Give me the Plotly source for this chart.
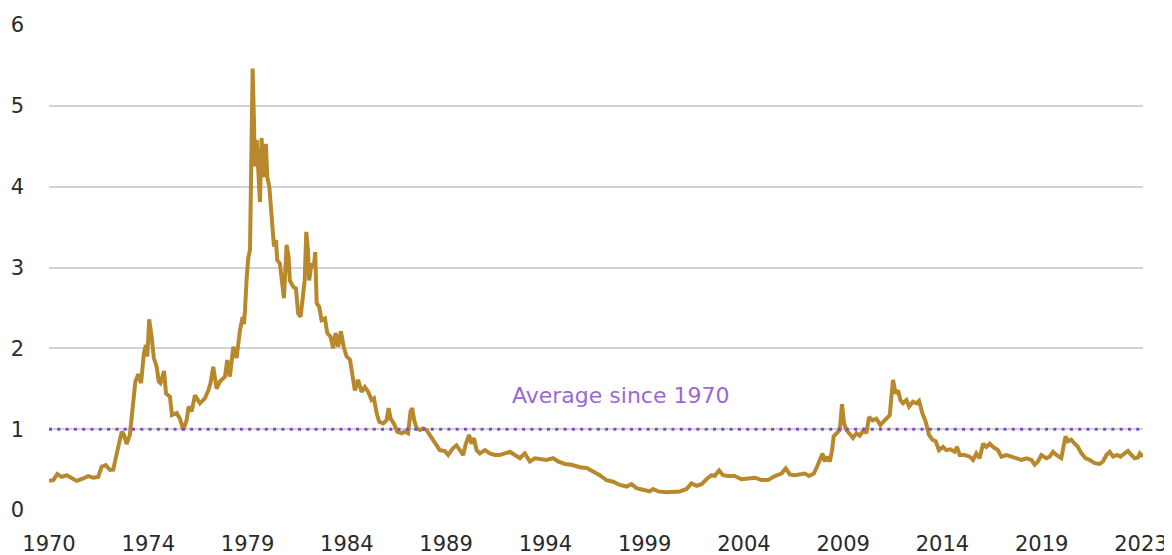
import numpy as np
import plotly.graph_objects as go

# Decimal-year positions of the traced points
years = [
    1970.00, 1970.21, 1970.41, 1970.62, 1970.87, 1971.12, 1971.36, 1971.69, 1971.93, 1972.18,
    1972.42, 1972.59, 1972.79, 1973.00, 1973.16, 1973.30, 1973.46, 1973.58, 1973.69, 1973.82,
    1973.98, 1974.08, 1974.15, 1974.25, 1974.39, 1974.53, 1974.67, 1974.77, 1974.84, 1974.93,
    1975.05, 1975.16, 1975.30, 1975.40, 1975.49, 1975.66, 1975.76, 1975.95, 1976.05, 1976.28,
    1976.44, 1976.61, 1976.77, 1976.87, 1977.02, 1977.18, 1977.43, 1977.67, 1977.84, 1977.95,
    1978.08, 1978.25, 1978.41, 1978.66, 1978.77, 1978.90, 1979.07, 1979.23, 1979.40, 1979.53,
    1979.59, 1979.64, 1979.72, 1979.80, 1979.89, 1979.95, 1980.02, 1980.08, 1980.13, 1980.22,
    1980.30, 1980.38, 1980.46, 1980.54, 1980.67, 1980.74, 1980.84, 1980.91, 1981.00, 1981.07,
    1981.17, 1981.23, 1981.36, 1981.45, 1981.56, 1981.69, 1981.79, 1981.85, 1982.02, 1982.15,
    1982.26, 1982.38, 1982.48, 1982.58, 1982.66, 1982.74, 1982.80, 1982.92, 1983.03, 1983.10,
    1983.17, 1983.30, 1983.41, 1983.58, 1983.69, 1983.86, 1983.98, 1984.10, 1984.23, 1984.36,
    1984.51, 1984.64, 1984.81, 1984.94, 1985.05, 1985.21, 1985.38, 1985.54, 1985.71, 1985.87,
    1985.99, 1986.12, 1986.25, 1986.44, 1986.61, 1986.71, 1986.81, 1986.97, 1987.13, 1987.35,
    1987.51, 1987.67, 1987.79, 1987.87, 1987.97, 1988.09, 1988.25, 1988.41, 1988.58, 1988.78,
    1988.99, 1989.15, 1989.23, 1989.48, 1989.64, 1989.86, 1990.05, 1990.22, 1990.38, 1990.51,
    1990.67, 1990.79, 1990.91, 1991.04, 1991.20, 1991.45, 1991.69, 1991.94, 1992.18, 1992.43,
    1992.68, 1992.92, 1993.17, 1993.41, 1993.66, 1993.91, 1994.15, 1994.48, 1994.81, 1995.05,
    1995.38, 1995.71, 1996.12, 1996.45, 1996.77, 1997.10, 1997.43, 1997.76, 1998.09, 1998.42,
    1998.66, 1998.91, 1999.23, 1999.56, 1999.72, 1999.97, 2000.38, 2000.71, 2001.04, 2001.37,
    2001.61, 2001.86, 2002.11, 2002.35, 2002.60, 2002.76, 2002.97, 2003.17, 2003.41, 2003.74,
    2004.07, 2004.40, 2004.73, 2005.06, 2005.38, 2005.71, 2006.04, 2006.25, 2006.45, 2006.69,
    2006.94, 2007.19, 2007.40, 2007.63, 2007.79, 2007.92, 2008.06, 2008.17, 2008.28, 2008.42,
    2008.53, 2008.61, 2008.75, 2008.91, 2009.02, 2009.12, 2009.24, 2009.40, 2009.56, 2009.73,
    2009.89, 2010.09, 2010.22, 2010.35, 2010.52, 2010.71, 2010.91, 2011.12, 2011.37, 2011.45,
    2011.53, 2011.66, 2011.78, 2011.89, 2012.02, 2012.19, 2012.32, 2012.51, 2012.68, 2012.81,
    2012.97, 2013.14, 2013.30, 2013.47, 2013.63, 2013.79, 2013.99, 2014.16, 2014.35, 2014.56,
    2014.68, 2014.81, 2015.06, 2015.30, 2015.47, 2015.63, 2015.79, 2015.96, 2016.12, 2016.29,
    2016.45, 2016.69, 2016.86, 2017.11, 2017.35, 2017.60, 2017.85, 2018.09, 2018.34, 2018.50,
    2018.66, 2018.83, 2019.07, 2019.24, 2019.40, 2019.57, 2019.81, 2019.93, 2020.02, 2020.14,
    2020.30, 2020.47, 2020.63, 2020.80, 2021.01, 2021.20, 2021.45, 2021.70, 2021.86, 2022.03,
    2022.19, 2022.36, 2022.55, 2022.72, 2022.93, 2023.09, 2023.26, 2023.42, 2023.58, 2023.67,
    2023.83,
]

ratio = [
    0.36, 0.37, 0.445, 0.41, 0.43, 0.39, 0.36, 0.39, 0.42, 0.40,
    0.41, 0.535, 0.556, 0.495, 0.50, 0.66, 0.825, 0.97, 0.93, 0.816,
    0.93, 1.20, 1.36, 1.59, 1.68, 1.57, 1.94, 2.04, 1.90, 2.36,
    2.14, 1.88, 1.77, 1.59, 1.57, 1.72, 1.44, 1.40, 1.175, 1.20,
    1.13, 0.99, 1.11, 1.28, 1.22, 1.42, 1.32, 1.38, 1.48, 1.57,
    1.77, 1.50, 1.59, 1.65, 1.855, 1.65, 2.02, 1.88, 2.23, 2.39,
    2.30, 2.45, 2.84, 3.11, 3.22, 4.04, 5.46, 4.86, 4.25, 4.58,
    4.12, 3.81, 4.60, 4.12, 4.53, 4.12, 4.00, 3.79, 3.57, 3.26,
    3.34, 3.09, 3.05, 2.80, 2.62, 3.28, 3.13, 2.84, 2.76, 2.74,
    2.43, 2.39, 2.64, 2.84, 3.44, 3.22, 2.84, 3.05, 3.00, 3.19,
    2.56, 2.51, 2.35, 2.37, 2.19, 2.14, 2.00, 2.19, 2.02, 2.21,
    2.01, 1.90, 1.86, 1.65, 1.48, 1.61, 1.46, 1.52, 1.46, 1.36,
    1.38, 1.20, 1.09, 1.07, 1.11, 1.26, 1.13, 1.07, 0.97, 0.95,
    0.97, 0.95, 1.22, 1.26, 1.11, 1.01, 0.99, 1.01, 0.99, 0.91,
    0.82, 0.76, 0.74, 0.73, 0.68, 0.76, 0.80, 0.74, 0.68, 0.82,
    0.93, 0.82, 0.89, 0.74, 0.70, 0.74, 0.70, 0.68, 0.68, 0.70,
    0.72, 0.68, 0.64, 0.70, 0.60, 0.64, 0.63, 0.62, 0.64, 0.60,
    0.57, 0.56, 0.53, 0.52, 0.475, 0.43, 0.37, 0.35, 0.31, 0.29,
    0.32, 0.27, 0.25, 0.23, 0.26, 0.23, 0.22, 0.22, 0.23, 0.26,
    0.33, 0.30, 0.32, 0.38, 0.43, 0.42, 0.49, 0.43, 0.42, 0.42,
    0.38, 0.39, 0.40, 0.37, 0.37, 0.42, 0.45, 0.515, 0.44, 0.43,
    0.44, 0.45, 0.42, 0.45, 0.535, 0.62, 0.70, 0.60, 0.66, 0.60,
    0.74, 0.91, 0.95, 0.99, 1.31, 1.07, 0.99, 0.93, 0.89, 0.95,
    0.92, 0.99, 0.95, 1.15, 1.11, 1.13, 1.05, 1.11, 1.175, 1.40,
    1.61, 1.44, 1.48, 1.36, 1.32, 1.36, 1.28, 1.34, 1.32, 1.35,
    1.20, 1.09, 0.93, 0.87, 0.85, 0.74, 0.78, 0.74, 0.75, 0.72,
    0.78, 0.68, 0.68, 0.66, 0.62, 0.70, 0.64, 0.82, 0.78, 0.82,
    0.78, 0.74, 0.66, 0.68, 0.66, 0.64, 0.62, 0.64, 0.62, 0.56,
    0.60, 0.68, 0.64, 0.66, 0.72, 0.68, 0.64, 0.80, 0.91, 0.85,
    0.87, 0.82, 0.78, 0.70, 0.64, 0.62, 0.58, 0.57, 0.60, 0.68,
    0.72, 0.66, 0.68, 0.66, 0.70, 0.73, 0.68, 0.64, 0.65, 0.70,
    0.66,
]

average_since_1970 = 1.0
average_label = "Average since 1970"

x_tick_labels = ["1970", "1974", "1979", "1984", "1989", "1994",
                 "1999", "2004", "2009", "2014", "2019", "2023"]
y_tick_values = [0, 1, 2, 3, 4, 5, 6]

GOLD = "#B8892C"
PURPLE_DOTS = "#7D4CC6"
PURPLE_TEXT = "#9A68D6"
GRID = "#D2D2D2"
FONT = "DejaVu Sans"
TEXT = "#2A2A2A"

x_start, x_end = years[0], years[-1]
tick_positions = np.linspace(x_start, 2023.73, len(x_tick_labels))

fig = go.Figure()

fig.add_trace(go.Scatter(
    x=years, y=ratio, mode="lines",
    line=dict(color=GOLD, width=4),
    hoverinfo="skip", showlegend=False,
))

fig.add_trace(go.Scatter(
    x=[x_start, x_end], y=[average_since_1970, average_since_1970], mode="lines",
    line=dict(color=PURPLE_DOTS, width=3, dash="3px,5.3px"),
    hoverinfo="skip", showlegend=False,
))

fig.add_annotation(
    x=1998.1, y=1.42, text=average_label, showarrow=False,
    font=dict(family=FONT, size=22, color=PURPLE_TEXT),
    xanchor="center", yanchor="middle",
)

# the page body adds an 8px offset, so the figure is 8px smaller and margins shifted
fig.update_layout(
    width=1164, height=547,
    margin=dict(l=41, r=29, t=17, b=45),
    plot_bgcolor="white", paper_bgcolor="white",
    font=dict(family=FONT, size=21, color=TEXT),
    showlegend=False,
)

fig.update_xaxes(
    range=[x_start, x_end],
    tickmode="array", tickvals=tick_positions, ticktext=x_tick_labels,
    showgrid=False, zeroline=False, showline=False,
    ticks="", ticklabelstandoff=19, automargin=False,
    tickfont=dict(family=FONT, size=21, color=TEXT),
)

fig.update_yaxes(
    range=[0, 6],
    tickmode="array", tickvals=y_tick_values,
    showgrid=True, gridcolor=GRID, gridwidth=1.5,
    zeroline=False, showline=False,
    ticks="", ticklabelstandoff=24, automargin=False,
    tickfont=dict(family=FONT, size=21, color=TEXT),
)

fig.write_html("out.html")
